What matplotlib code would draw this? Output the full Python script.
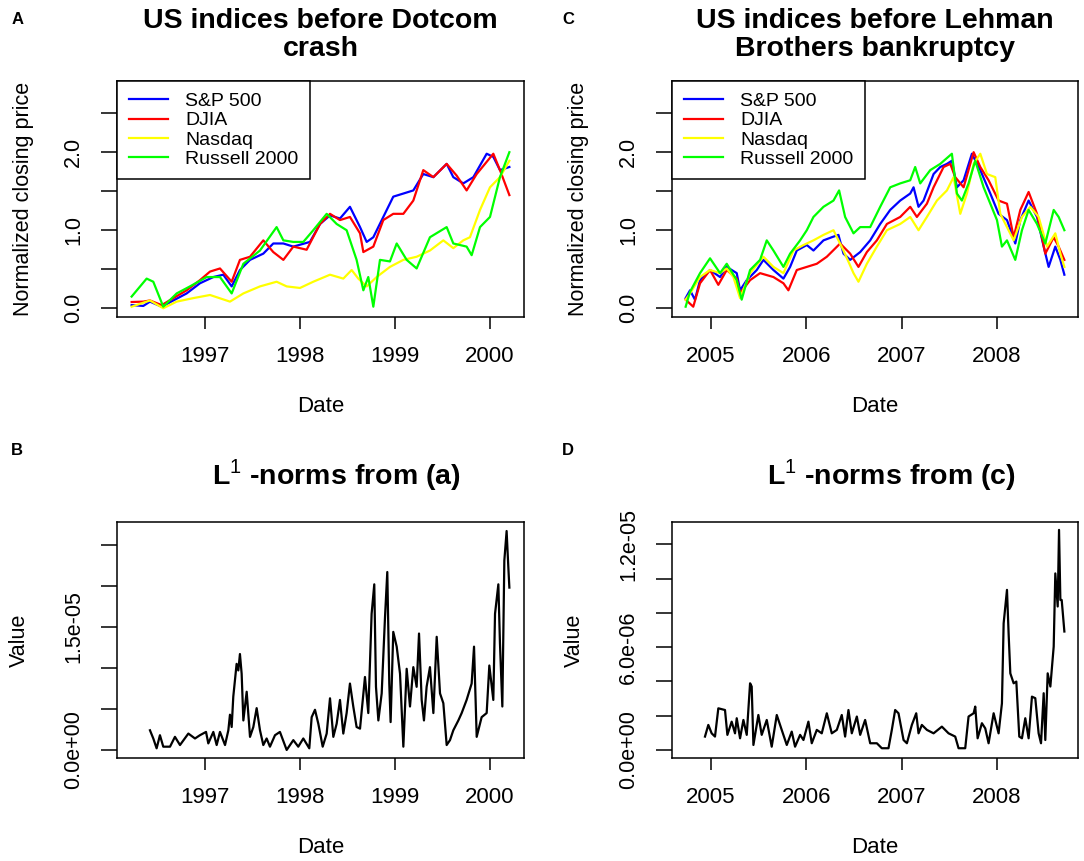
import matplotlib
matplotlib.use("Agg")
import matplotlib.pyplot as plt
import numpy as np

plt.rcParams['font.family'] = ['Liberation Sans', 'DejaVu Sans']
plt.rcParams['mathtext.fontset'] = 'custom'
plt.rcParams['mathtext.rm'] = 'Liberation Sans'
plt.rcParams['mathtext.bf'] = 'Liberation Sans:bold'

# ---------------------------------------------------------------
# data (decimal years, normalised prices)
# ---------------------------------------------------------------
SERIES_NAMES = ['S&P 500', 'DJIA', 'Nasdaq', 'Russell 2000']
SERIES_COLORS = ['#0000FF', '#FF0000', '#FFFF00', '#00FF00']

# (a) before Dotcom crash
sp_a_t = [1996.228, 1996.351, 1996.421, 1996.544, 1996.667, 1996.807, 1996.947, 1997.088,
          1997.193, 1997.281, 1997.368, 1997.474, 1997.614, 1997.719, 1997.825, 1997.930,
          1998.105, 1998.211, 1998.316, 1998.421, 1998.526, 1998.632, 1998.702, 1998.772,
          1998.877, 1998.982, 1999.088, 1999.193, 1999.298, 1999.404, 1999.544, 1999.614,
          1999.719, 1999.825, 1999.965, 2000.035, 2000.105, 2000.204]
sp_a_v = [0.04, 0.03, 0.085, 0.02, 0.10, 0.19, 0.32, 0.40,
          0.43, 0.28, 0.49, 0.62, 0.70, 0.83, 0.83, 0.79,
          0.85, 1.08, 1.19, 1.15, 1.30, 1.04, 0.85, 0.91,
          1.17, 1.43, 1.47, 1.51, 1.72, 1.68, 1.85, 1.68,
          1.60, 1.68, 1.98, 1.94, 1.77, 1.81]

dj_a_t = [1996.228, 1996.351, 1996.421, 1996.544, 1996.667, 1996.807, 1996.947, 1997.053,
          1997.158, 1997.281, 1997.368, 1997.474, 1997.614, 1997.719, 1997.825, 1997.930,
          1998.070, 1998.211, 1998.316, 1998.421, 1998.526, 1998.632, 1998.667, 1998.772,
          1998.877, 1998.982, 1999.088, 1999.193, 1999.298, 1999.404, 1999.544, 1999.649,
          1999.754, 1999.860, 2000.035, 2000.105, 2000.204]
dj_a_v = [0.08, 0.085, 0.10, 0.04, 0.13, 0.23, 0.36, 0.47,
          0.51, 0.34, 0.62, 0.66, 0.87, 0.72, 0.62, 0.79,
          0.75, 1.08, 1.21, 1.13, 1.17, 0.96, 0.72, 0.79,
          1.13, 1.21, 1.21, 1.38, 1.77, 1.68, 1.85, 1.70,
          1.51, 1.72, 1.98, 1.77, 1.45]

nq_a_t = [1996.228, 1996.421, 1996.561, 1996.702, 1996.877, 1997.053, 1997.263, 1997.404,
          1997.579, 1997.754, 1997.860, 1998.000, 1998.140, 1998.316, 1998.456, 1998.544,
          1998.614, 1998.702, 1998.807, 1998.947, 1999.088, 1999.228, 1999.368, 1999.509,
          1999.614, 1999.719, 1999.789, 1999.895, 2000.000, 2000.105, 2000.204]
nq_a_v = [0.02, 0.10, 0.00, 0.085, 0.13, 0.17, 0.085, 0.19,
          0.28, 0.34, 0.28, 0.26, 0.34, 0.43, 0.38, 0.49,
          0.38, 0.28, 0.40, 0.53, 0.62, 0.66, 0.74, 0.87,
          0.77, 0.87, 0.91, 1.26, 1.55, 1.68, 1.89]

ru_a_t = [1996.228, 1996.386, 1996.456, 1996.561, 1996.702, 1996.842, 1997.018, 1997.158,
          1997.281, 1997.404, 1997.579, 1997.754, 1997.825, 1997.930, 1998.035, 1998.140,
          1998.281, 1998.386, 1998.491, 1998.596, 1998.667, 1998.719, 1998.772, 1998.842,
          1998.947, 1999.018, 1999.123, 1999.228, 1999.368, 1999.544, 1999.614, 1999.754,
          1999.807, 1999.895, 2000.000, 2000.105, 2000.204]
ru_a_v = [0.15, 0.38, 0.34, 0.02, 0.19, 0.28, 0.40, 0.40,
          0.19, 0.57, 0.74, 1.04, 0.87, 0.85, 0.85, 1.00,
          1.21, 1.08, 1.00, 0.62, 0.23, 0.40, 0.02, 0.62,
          0.60, 0.83, 0.62, 0.51, 0.91, 1.04, 0.83, 0.79,
          0.68, 1.04, 1.17, 1.68, 2.00]

# (c) before Lehman Brothers bankruptcy
sp_c_t = [2004.734, 2004.780, 2004.832, 2004.885, 2004.990, 2005.095, 2005.165, 2005.270,
          2005.305, 2005.375, 2005.480, 2005.550, 2005.655, 2005.760, 2005.830, 2005.900,
          2006.005, 2006.075, 2006.180, 2006.267, 2006.337, 2006.390, 2006.460, 2006.565,
          2006.670, 2006.775, 2006.880, 2006.985, 2007.090, 2007.125, 2007.177, 2007.230,
          2007.335, 2007.405, 2007.475, 2007.527, 2007.580, 2007.650, 2007.737, 2007.825,
          2007.930, 2008.017, 2008.105, 2008.192, 2008.245, 2008.332, 2008.420, 2008.490,
          2008.542, 2008.612, 2008.665, 2008.707]
sp_c_v = [0.13, 0.23, 0.11, 0.36, 0.49, 0.40, 0.53, 0.45,
          0.23, 0.36, 0.49, 0.62, 0.49, 0.38, 0.53, 0.74,
          0.81, 0.74, 0.87, 0.91, 0.94, 0.70, 0.62, 0.72,
          0.87, 1.08, 1.26, 1.38, 1.47, 1.55, 1.30, 1.38,
          1.72, 1.81, 1.85, 1.89, 1.55, 1.64, 1.98, 1.77,
          1.47, 1.21, 1.13, 0.83, 1.13, 1.38, 1.17, 0.79,
          0.53, 0.79, 0.62, 0.43]

dj_c_t = [2004.734, 2004.814, 2004.885, 2004.990, 2005.077, 2005.165, 2005.270, 2005.305,
          2005.410, 2005.515, 2005.655, 2005.760, 2005.812, 2005.900, 2006.005, 2006.110,
          2006.215, 2006.355, 2006.460, 2006.547, 2006.635, 2006.740, 2006.845, 2006.985,
          2007.090, 2007.160, 2007.265, 2007.335, 2007.440, 2007.510, 2007.562, 2007.650,
          2007.755, 2007.825, 2007.912, 2008.017, 2008.105, 2008.175, 2008.245, 2008.332,
          2008.420, 2008.507, 2008.595, 2008.647, 2008.707]
dj_c_v = [0.11, 0.02, 0.32, 0.49, 0.30, 0.49, 0.38, 0.19,
          0.36, 0.45, 0.40, 0.32, 0.23, 0.49, 0.53, 0.57,
          0.66, 0.83, 0.70, 0.53, 0.72, 0.87, 1.08, 1.17,
          1.30, 1.17, 1.34, 1.55, 1.81, 1.85, 1.68, 1.55,
          2.00, 1.81, 1.64, 1.38, 1.34, 0.91, 1.26, 1.49,
          1.21, 0.70, 0.91, 0.79, 0.62]

nq_c_t = [2004.734, 2004.780, 2004.885, 2004.990, 2005.095, 2005.165, 2005.235, 2005.305,
          2005.410, 2005.550, 2005.655, 2005.760, 2005.865, 2005.970, 2006.075, 2006.180,
          2006.285, 2006.390, 2006.495, 2006.547, 2006.635, 2006.740, 2006.845, 2006.985,
          2007.090, 2007.177, 2007.265, 2007.370, 2007.475, 2007.545, 2007.615, 2007.685,
          2007.755, 2007.825, 2007.895, 2007.982, 2008.035, 2008.105, 2008.175, 2008.262,
          2008.350, 2008.437, 2008.525, 2008.612, 2008.665, 2008.707]
nq_c_v = [0.11, 0.19, 0.40, 0.49, 0.45, 0.51, 0.40, 0.13,
          0.45, 0.66, 0.53, 0.45, 0.74, 0.81, 0.87, 0.94,
          1.00, 0.74, 0.45, 0.34, 0.57, 0.79, 1.00, 1.08,
          1.17, 1.00, 1.17, 1.38, 1.51, 1.68, 1.21, 1.47,
          1.85, 1.98, 1.72, 1.68, 1.21, 1.04, 0.87, 1.17,
          1.30, 1.17, 0.79, 0.96, 0.70, 0.53]

ru_c_t = [2004.734, 2004.780, 2004.885, 2004.990, 2005.095, 2005.165, 2005.270, 2005.322,
          2005.410, 2005.515, 2005.585, 2005.655, 2005.760, 2005.830, 2005.935, 2006.005,
          2006.075, 2006.180, 2006.285, 2006.344, 2006.407, 2006.495, 2006.565, 2006.670,
          2006.775, 2006.880, 2006.985, 2007.090, 2007.142, 2007.195, 2007.300, 2007.405,
          2007.527, 2007.580, 2007.632, 2007.702, 2007.772, 2007.860, 2007.930, 2008.000,
          2008.052, 2008.105, 2008.192, 2008.262, 2008.332, 2008.420, 2008.507, 2008.595,
          2008.647, 2008.707]
ru_c_v = [0.02, 0.21, 0.45, 0.64, 0.45, 0.57, 0.36, 0.11,
          0.49, 0.62, 0.87, 0.74, 0.53, 0.70, 0.87, 1.00,
          1.17, 1.30, 1.38, 1.51, 1.17, 0.96, 1.04, 1.04,
          1.30, 1.55, 1.60, 1.64, 1.81, 1.60, 1.77, 1.85,
          1.98, 1.47, 1.38, 1.60, 1.89, 1.55, 1.34, 1.13,
          0.79, 0.87, 0.62, 1.00, 1.26, 1.08, 0.83, 1.26,
          1.17, 1.00]

# (b) L1-norms from (a), in units of 1e-6
norm_b_t = [1996.421, 1996.456, 1996.491, 1996.526, 1996.561, 1996.632, 1996.684, 1996.737,
            1996.825, 1996.895, 1996.947, 1997.011, 1997.035, 1997.088, 1997.123, 1997.158,
            1997.211, 1997.246, 1997.263, 1997.281, 1997.298, 1997.333, 1997.351, 1997.368,
            1997.386, 1997.404, 1997.439, 1997.474, 1997.509, 1997.544, 1997.579, 1997.614,
            1997.649, 1997.684, 1997.737, 1997.789, 1997.860, 1997.930, 1997.982, 1998.035,
            1998.098, 1998.123, 1998.158, 1998.193, 1998.239, 1998.281, 1998.316, 1998.351,
            1998.386, 1998.421, 1998.456, 1998.491, 1998.526, 1998.561, 1998.596, 1998.632,
            1998.684, 1998.719, 1998.754, 1998.782, 1998.800, 1998.825, 1998.860, 1998.895,
            1998.919, 1998.940, 1998.954, 1998.982, 1999.018, 1999.053, 1999.088, 1999.123,
            1999.158, 1999.193, 1999.228, 1999.253, 1999.281, 1999.305, 1999.333, 1999.368,
            1999.404, 1999.439, 1999.474, 1999.509, 1999.544, 1999.579, 1999.614, 1999.667,
            1999.702, 1999.754, 1999.807, 1999.832, 1999.860, 1999.912, 1999.965, 1999.993,
            2000.035, 2000.053, 2000.088, 2000.105, 2000.130, 2000.151, 2000.175, 2000.193,
            2000.204]
norm_b_v = [2.4, 1.4, 0.2, 1.8, 0.4, 0.4, 1.6, 0.6,
            2.0, 1.4, 1.8, 2.2, 0.8, 2.2, 0.6, 2.2,
            0.6, 2.4, 4.3, 2.8, 6.5, 10.5, 9.7, 11.7,
            9.3, 3.6, 7.1, 1.6, 2.8, 5.1, 2.4, 0.6,
            1.4, 0.4, 1.8, 2.2, 0.0, 1.2, 0.4, 1.4,
            0.2, 4.0, 4.9, 3.2, 0.4, 2.0, 6.3, 1.6,
            3.2, 6.1, 2.0, 4.5, 8.1, 5.3, 2.8, 2.6,
            8.9, 4.5, 16.6, 20.2, 7.7, 3.6, 6.9, 16.2,
            21.7, 8.1, 3.4, 14.4, 12.6, 9.3, 0.4, 9.9,
            5.3, 10.1, 7.7, 14.2, 6.1, 3.6, 7.7, 10.1,
            4.5, 13.8, 6.9, 5.7, 0.6, 1.2, 2.4, 3.6,
            4.5, 6.1, 8.1, 12.6, 1.6, 4.0, 4.5, 10.3,
            6.1, 16.6, 20.2, 13.0, 5.3, 23.1, 26.7, 22.3,
            19.8]

# (d) L1-norms from (c), in units of 1e-6
norm_d_t = [2004.937, 2004.972, 2005.007, 2005.042, 2005.077, 2005.147, 2005.172, 2005.217,
            2005.252, 2005.270, 2005.305, 2005.340, 2005.375, 2005.410, 2005.427, 2005.445,
            2005.497, 2005.532, 2005.585, 2005.637, 2005.690, 2005.742, 2005.795, 2005.847,
            2005.882, 2005.935, 2005.970, 2006.022, 2006.057, 2006.110, 2006.162, 2006.215,
            2006.267, 2006.320, 2006.372, 2006.407, 2006.442, 2006.477, 2006.530, 2006.565,
            2006.617, 2006.670, 2006.740, 2006.792, 2006.862, 2006.897, 2006.932, 2006.967,
            2007.020, 2007.055, 2007.107, 2007.153, 2007.177, 2007.212, 2007.265, 2007.335,
            2007.422, 2007.492, 2007.562, 2007.597, 2007.667, 2007.702, 2007.755, 2007.772,
            2007.797, 2007.842, 2007.877, 2007.912, 2007.965, 2008.017, 2008.052, 2008.070,
            2008.105, 2008.122, 2008.140, 2008.175, 2008.203, 2008.234, 2008.262, 2008.297,
            2008.332, 2008.367, 2008.402, 2008.437, 2008.462, 2008.490, 2008.507, 2008.532,
            2008.560, 2008.595, 2008.612, 2008.637, 2008.651, 2008.665, 2008.679, 2008.707]
norm_d_v = [0.78, 1.46, 0.97, 0.78, 2.43, 2.33, 0.88, 1.65,
            0.97, 1.85, 0.68, 1.75, 0.88, 3.89, 3.70, 0.29,
            2.04, 0.88, 1.75, 0.19, 2.04, 1.17, 0.29, 1.07,
            0.19, 0.88, 0.58, 1.65, 0.39, 1.17, 0.97, 2.14,
            0.97, 1.17, 2.04, 0.78, 2.33, 0.97, 1.95, 0.88,
            1.75, 0.39, 0.39, 0.10, 0.10, 1.17, 2.33, 2.14,
            0.58, 0.39, 1.46, 2.14, 0.97, 1.46, 1.17, 0.97,
            1.36, 0.97, 0.78, 0.10, 0.10, 1.95, 2.14, 2.53,
            0.68, 1.56, 1.26, 0.39, 2.14, 0.97, 2.72, 7.39,
            9.34, 6.81, 4.47, 3.89, 3.99, 0.78, 0.68, 1.85,
            0.68, 3.11, 3.02, 0.97, 0.39, 3.31, 0.58, 4.47,
            3.70, 6.03, 10.30, 8.37, 12.84, 8.75, 8.75, 6.91]

# ---------------------------------------------------------------
W, H = 1084, 861
fig = plt.figure(figsize=(W / 100, H / 100), dpi=100, facecolor='white')


def px_axes(x0, y0, x1, y1):
    # axes from pixel box (top-left origin)
    return fig.add_axes([x0 / W, 1 - y1 / H, (x1 - x0) / W, (y1 - y0) / H])


def r_style(ax, xticks, xlim):
    for s in ax.spines.values():
        s.set_linewidth(1.1)
    ax.set_xlim(*xlim)
    ax.set_xticks(xticks)
    ax.set_xticklabels([str(t) for t in xticks])
    ax.tick_params(axis='x', direction='out', length=8.6, width=1.1, pad=12, labelsize=16)
    ax.tick_params(axis='y', direction='out', length=11.5, width=1.1, pad=12, labelsize=15.5)
    for lab in ax.get_yticklabels():
        lab.set_rotation(90)
        lab.set_va('center')
    ax.set_xlabel('Date', fontsize=16)
    ax.xaxis.set_label_coords(0.5, -0.335)


def price_panel(ax, title, series, xticks, xlim):
    for (t, v), name, col in zip(series, SERIES_NAMES, SERIES_COLORS):
        ax.plot(t, v, color=col, lw=1.6, label=name)
    ax.set_ylim(-0.112, 2.912)
    ax.set_yticks([0, 0.5, 1.0, 1.5, 2.0, 2.5])
    ax.set_yticklabels(['0.0', '', '1.0', '', '2.0', ''])
    r_style(ax, xticks, xlim)
    ax.set_ylabel('Normalized closing price', fontsize=15.5)
    ax.yaxis.set_label_coords(-0.205, 0.5)
    ax.set_title(title, fontsize=20.5, fontweight='bold', pad=18, linespacing=1.12)
    leg = ax.legend(loc='upper left', borderaxespad=0, fontsize=14, fancybox=False,
                    edgecolor='black', framealpha=1, handlelength=2.0,
                    handletextpad=0.9, labelspacing=0.08, borderpad=0.6)
    leg.get_frame().set_linewidth(1.1)


def norm_panel(ax, title, t, v, yticks, ylabels, ylim, xticks, xlim):
    ax.plot(t, np.asarray(v) * 1e-6, color='black', lw=1.6)
    ax.set_ylim(*ylim)
    ax.set_yticks(yticks)
    ax.set_yticklabels(ylabels)
    r_style(ax, xticks, xlim)
    ax.set_ylabel('Value', fontsize=15.5)
    ax.yaxis.set_label_coords(-0.215, 0.5)
    ax.set_title(title, fontsize=20.5, fontweight='bold', pad=27, x=0.54)


ax_a = px_axes(117, 81, 524, 317)
ax_c = px_axes(672, 81, 1078, 317)
ax_b = px_axes(117, 522, 524, 758)
ax_d = px_axes(672, 522, 1078, 758)

price_panel(ax_a, 'US indices before Dotcom\ncrash',
            [(sp_a_t, sp_a_v), (dj_a_t, dj_a_v), (nq_a_t, nq_a_v), (ru_a_t, ru_a_v)],
            [1997, 1998, 1999, 2000], (1996.074, 2000.358))
price_panel(ax_c, 'US indices before Lehman\nBrothers bankruptcy',
            [(sp_c_t, sp_c_v), (dj_c_t, dj_c_v), (nq_c_t, nq_c_v), (ru_c_t, ru_c_v)],
            [2005, 2006, 2007, 2008], (2004.591, 2008.85))

norm_panel(ax_b, r'L$^{1}$ -norms from (a)', norm_b_t, norm_b_v,
           [0, 5e-6, 1e-5, 1.5e-5, 2e-5, 2.5e-5], ['0.0e+00', '', '', '1.5e-05', '', ''],
           (-0.98e-6, 2.78e-5), [1997, 1998, 1999, 2000], (1996.074, 2000.358))
norm_panel(ax_d, r'L$^{1}$ -norms from (c)', norm_d_t, norm_d_v,
           [0, 2e-6, 4e-6, 6e-6, 8e-6, 1e-5, 1.2e-5],
           ['0.0e+00', '', '', '6.0e-06', '', '', '1.2e-05'],
           (-0.47e-6, 1.33e-5), [2005, 2006, 2007, 2008], (2004.591, 2008.85))

# panel letters
for letter, x, y in [('A', 18, 19), ('B', 17, 450), ('C', 568, 19), ('D', 568, 450)]:
    fig.text(x / W, 1 - y / H, letter, fontsize=12, fontweight='bold',
             ha='center', va='center')

fig.savefig('out.png', dpi=100, facecolor='white')
